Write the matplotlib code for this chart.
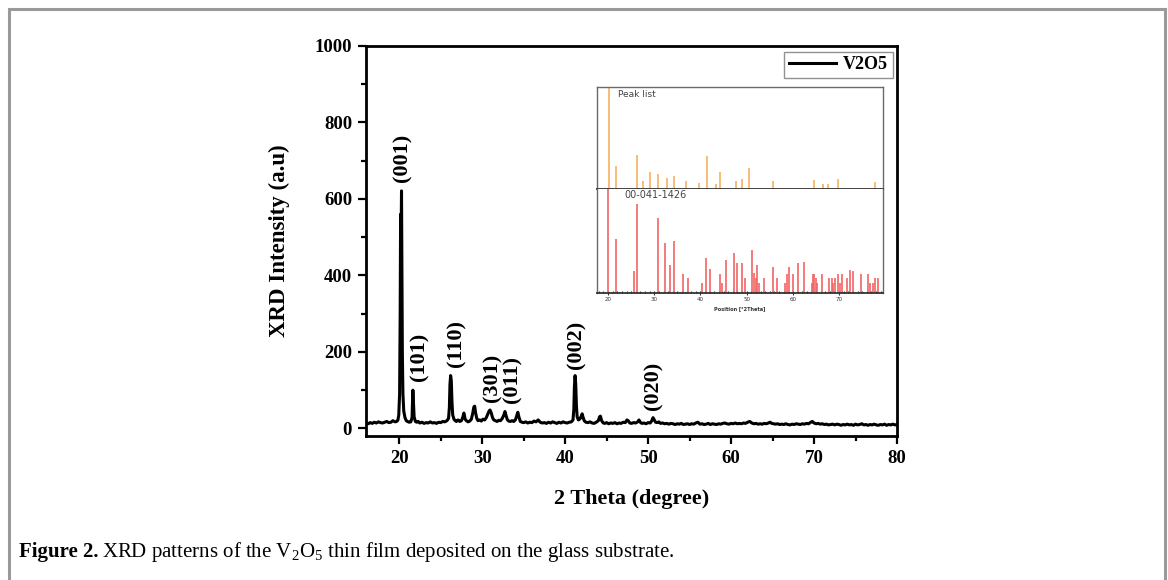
import matplotlib
matplotlib.use("Agg")
import matplotlib.pyplot as plt
from matplotlib.lines import Line2D
from matplotlib.ticker import MultipleLocator

plt.rcParams['font.family'] = ['Liberation Serif', 'DejaVu Serif']
plt.rcParams['mathtext.fontset'] = 'custom'
plt.rcParams['mathtext.rm'] = 'Liberation Serif'

# main XRD pattern
two_theta = [16.0, 16.25, 16.5, 16.75, 17.0, 17.25, 17.5, 17.75, 18.0, 18.25, 18.5, 18.75, 19.0, 19.25, 19.5, 19.7, 19.85,
             19.95, 20.05, 20.12, 20.17, 20.22, 20.28, 20.33, 20.38, 20.45, 20.55, 20.7, 20.85, 21.0, 21.2, 21.4,
             21.55, 21.65, 21.72, 21.8, 21.95, 22.1, 22.3, 22.5, 22.75, 23.0, 23.25, 23.5, 23.75, 24.0, 24.25, 24.5,
             24.75, 25.0, 25.25, 25.5, 25.75, 25.95,
             26.05, 26.12, 26.2, 26.28, 26.36, 26.45, 26.6, 26.75, 26.9, 27.1, 27.3, 27.5, 27.65, 27.8, 27.95, 28.1,
             28.3, 28.5, 28.7, 28.85, 29.0, 29.1, 29.2, 29.35, 29.5, 29.7, 29.9, 30.1, 30.3, 30.5, 30.7, 30.85, 30.95,
             31.1, 31.25, 31.4, 31.6, 31.8, 32.0, 32.2, 32.4, 32.6, 32.75, 32.9, 33.05, 33.2, 33.4, 33.6, 33.8, 34.0,
             34.15, 34.3, 34.45, 34.6, 34.8, 35.0, 35.25, 35.5, 35.75, 36.0, 36.25, 36.5, 36.75, 37.0, 37.25, 37.5,
             37.75, 38.0, 38.25, 38.5, 38.75, 39.0, 39.25, 39.5, 39.75, 40.0, 40.25, 40.5, 40.75, 40.95,
             41.05, 41.12, 41.2, 41.28, 41.36, 41.45, 41.6, 41.8, 41.95, 42.05, 42.15, 42.3, 42.5, 42.75, 43.0, 43.25,
             43.5, 43.75, 44.0, 44.15, 44.25, 44.4, 44.6, 44.8, 45.0, 45.25, 45.5, 45.75, 46.0, 46.25, 46.5, 46.75,
             47.0, 47.25, 47.45, 47.6, 47.8, 48.0, 48.25, 48.5, 48.75, 48.9, 49.05, 49.25, 49.5, 49.75, 50.0, 50.25,
             50.45, 50.6, 50.75, 50.9, 51.1, 51.3, 51.5, 51.75, 52.0, 52.25, 52.5, 52.75, 53.0, 53.25, 53.5, 53.75,
             54.0, 54.25, 54.5, 54.75, 55.0, 55.25, 55.5, 55.75, 56.0, 56.25, 56.5, 56.75, 57.0, 57.25, 57.5, 57.75,
             58.0, 58.25, 58.5, 58.75, 59.0, 59.25, 59.5, 59.75, 60.0, 60.25, 60.5, 60.75, 61.0, 61.25, 61.5, 61.75,
             62.0, 62.25, 62.5, 62.75, 63.0, 63.25, 63.5, 63.75, 64.0, 64.25, 64.5, 64.7, 64.9, 65.1, 65.35, 65.6,
             65.85, 66.1, 66.35, 66.6, 66.85, 67.1, 67.35, 67.6, 67.85, 68.1, 68.35, 68.6, 68.85, 69.1, 69.35, 69.6,
             69.8, 70.0, 70.25, 70.5, 70.75, 71.0, 71.25, 71.5, 71.75, 72.0, 72.25, 72.5, 72.75, 73.0, 73.25, 73.5,
             73.75, 74.0, 74.25, 74.5, 74.75, 75.0, 75.25, 75.5, 75.75, 76.0, 76.25, 76.5, 76.75, 77.0, 77.25, 77.5,
             77.75, 78.0, 78.25, 78.5, 78.75, 79.0, 79.25, 79.5, 79.75, 80.0]
intensity = [14, 12, 15, 13, 16, 14, 17, 15, 14, 16, 18, 15, 16, 20, 17, 18, 22,
             35, 90, 300, 560, 470, 621, 410, 200, 90, 45, 28, 20, 18, 16, 17,
             28, 100, 70, 30, 18, 16, 18, 14, 16, 13, 15, 14, 17, 14, 15, 13,
             16, 15, 18, 17, 20, 26,
             55, 115, 138, 125, 70, 35, 24, 20, 18, 22, 18, 20, 28, 40, 24, 20,
             17, 19, 24, 38, 56, 58, 42, 26, 20, 22, 19, 24, 22, 28, 38, 46, 48,
             40, 28, 22, 20, 18, 21, 20, 25, 34, 44, 32, 22, 19, 18, 20, 18, 22,
             32, 42, 28, 18, 16, 15, 17, 14, 16, 15, 19, 17, 22, 16, 14, 15,
             13, 16, 14, 17, 15, 13, 16, 14, 17, 15, 14, 16, 17, 22,
             50, 110, 138, 115, 60, 30, 22, 25, 32, 38, 30, 20, 16, 15, 17, 14,
             13, 16, 20, 30, 32, 20, 14, 13, 15, 12, 14, 13, 15, 12, 14, 13,
             16, 15, 22, 20, 14, 13, 15, 14, 17, 22, 16, 13, 14, 12, 15, 14,
             20, 28, 22, 16, 15, 17, 13, 14, 12, 13, 11, 13, 12, 10, 12, 11,
             13, 10, 11, 12, 10, 12, 11, 14, 16, 11, 12, 10, 11, 13, 10, 12,
             11, 10, 12, 11, 13, 14, 12, 11, 13, 12, 14, 12, 13, 12, 14, 13,
             16, 18, 14, 12, 13, 11, 12, 11, 13, 12, 14, 16, 13, 12, 11, 12,
             10, 11, 10, 12, 10, 9, 11, 10, 12, 11, 10, 12, 11, 13, 12, 16,
             18, 14, 12, 13, 11, 12, 10, 11, 9, 10, 11, 9, 11, 10, 8, 10,
             9, 11, 9, 10, 8, 11, 9, 10, 12, 9, 10, 8, 10, 9, 11, 9,
             8, 10, 9, 11, 8, 10, 9, 11, 9, 10]

# plane labels (text, x, bottom of text)
hkl_labels = ['(001)', '(101)', '(110)', '(301)', '(011)', '(002)', '(020)']
hkl_x = [20.4, 22.4, 26.9, 31.2, 33.7, 41.4, 50.7]
hkl_y = [645, 125, 160, 68, 66, 155, 48]

# inset: peak list (orange) and reference card 00-041-1426 (red)
peak_pos = [20.2, 21.7, 26.2, 27.6, 29.1, 30.9, 32.7, 34.3, 36.9, 39.7, 41.3, 43.3, 44.2, 47.7, 49.05,
            50.6, 55.8, 64.6, 66.5, 67.7, 69.7, 77.8]
peak_rel = [100, 23, 33, 7.5, 17, 15, 11, 13, 8, 6, 32, 5, 17, 8, 10, 21, 8, 8.5, 5, 5, 10, 6.5]
ref_pos = [20.05, 21.65, 25.5, 26.2, 30.9, 32.4, 33.3, 34.3, 36.15, 37.4, 40.3, 41.2, 42.1, 44.2, 44.6,
           45.5, 47.3, 48.0, 48.9, 49.6, 51.2, 51.6, 51.95, 52.2, 52.6, 53.8, 55.8, 56.5, 58.3, 58.7, 59.1,
           60.1, 61.2, 62.3, 64.1, 64.4, 64.6, 64.9, 65.2, 66.2, 67.9, 68.4, 68.7, 69.1, 69.8, 70.2, 70.6,
           71.8, 72.4, 72.9, 74.7, 76.2, 76.7, 77.4, 77.8, 78.4]
ref_rel = [100, 52, 21, 86, 72, 48, 27, 50, 18, 14, 10, 34, 23, 18, 10,
           32, 38, 29, 29, 14, 41, 19, 14, 27, 10, 14, 25, 14, 10, 18, 25,
           18, 29, 30, 10, 18, 18, 14, 10, 18, 14, 14, 10, 14, 18, 10, 18,
           14, 22, 21, 18, 18, 10, 10, 14, 14]

W, H = 1168, 580
fig = plt.figure(figsize=(W / 100, H / 100), dpi=100)

def fx(px):
    return px / W

def fy(py):
    return 1 - py / H

# outer gray frame
for xs, ys in [([9, 9], [H + 5, 9]), ([9, 1165], [9, 9]), ([1165, 1165], [9, H + 5])]:
    fig.add_artist(Line2D([fx(v) for v in xs], [fy(v) for v in ys], color='#9a9a9a', lw=2.2,
                          transform=fig.transFigure))

ax = fig.add_axes([fx(366), fy(436), fx(897) - fx(366), fy(46) - fy(436)])
ax.plot(two_theta, intensity, color='black', lw=2.2, label='V2O5')
ax.set_xlim(16, 80)
ax.set_ylim(-20, 1000)
ax.xaxis.set_major_locator(MultipleLocator(10))
ax.xaxis.set_minor_locator(MultipleLocator(5))
ax.yaxis.set_major_locator(MultipleLocator(200))
ax.yaxis.set_minor_locator(MultipleLocator(100))
ax.tick_params(which='both', direction='out', top=False, right=False, width=1.6)
ax.tick_params(which='major', length=6, labelsize=13.5, pad=4)
ax.tick_params(which='minor', length=3.5)
for lab in ax.get_xticklabels() + ax.get_yticklabels():
    lab.set_fontweight('bold')
for sp in ax.spines.values():
    sp.set_linewidth(2.0)
ax.set_xlabel('2 Theta (degree)', fontsize=16, fontweight='bold', labelpad=16)
ax.set_ylabel('XRD Intensity (a.u)', fontsize=16.5, fontweight='bold', labelpad=18)

for t, x, y in zip(hkl_labels, hkl_x, hkl_y):
    ax.text(x, y, t, rotation=90, ha='center', va='bottom', fontsize=16, fontweight='bold')

leg = ax.legend(loc='upper right', bbox_to_anchor=(0.9985, 0.995), prop={'size': 13, 'weight': 'bold'},
                frameon=True, fancybox=False, edgecolor='#777777', handlelength=2.6, handletextpad=0.4,
                borderpad=0.25, borderaxespad=0.2)
leg.get_frame().set_linewidth(1.0)

# inset
ix0, ix1 = fx(597), fx(883)
ax_top = fig.add_axes([ix0, fy(189), ix1 - ix0, fy(87) - fy(189)])
ax_bot = fig.add_axes([ix0, fy(293), ix1 - ix0, fy(189) - fy(293)], sharex=ax_top)
ax_top.vlines(peak_pos, 0, peak_rel, color='#f8b66a', lw=1.3)
ax_bot.vlines(ref_pos, 0, ref_rel, color='#f26464', lw=1.2)
for a in (ax_top, ax_bot):
    a.set_ylim(0, 100)
    a.set_yticks([])
    for sp in a.spines.values():
        sp.set_color('#6a6a6a')
        sp.set_linewidth(1.0)
ax_top.spines['bottom'].set_color('#333333')
ax_top.spines['bottom'].set_linewidth(1.3)
ax_bot.spines['top'].set_visible(False)
ax_bot.spines['bottom'].set_color('#333333')
ax_bot.spines['bottom'].set_linewidth(1.3)
ax_top.set_xlim(17.6, 79.5)
ax_top.tick_params(axis='x', which='both', bottom=False, labelbottom=False)
ax_bot.xaxis.set_major_locator(MultipleLocator(10))
ax_bot.xaxis.set_minor_locator(MultipleLocator(1))
ax_bot.tick_params(axis='x', which='major', direction='inout', length=3, width=0.8, labelsize=4, pad=1.5,
                   colors='#333333')
ax_bot.tick_params(axis='x', which='minor', direction='in', length=1.5, width=0.8, colors='#333333')
ax_bot.set_xlabel('Position [°2Theta]', fontsize=3.6, family='DejaVu Sans', fontweight='bold', labelpad=3,
                  color='#333333')
for lab in ax_bot.get_xticklabels():
    lab.set_family('DejaVu Sans')
ax_top.text(0.075, 0.97, 'Peak list', transform=ax_top.transAxes, fontsize=6.5, family='DejaVu Sans',
            color='#444444', va='top', ha='left')
ax_bot.text(0.095, 0.99, '00-041-1426', transform=ax_bot.transAxes, fontsize=7, family='DejaVu Sans',
            color='#444444', va='top', ha='left')

# caption
cap_y = fy(552)
t1 = fig.text(fx(19), cap_y, 'Figure 2.', fontsize=15, fontweight='bold', va='center', ha='left')
fig.canvas.draw()
bb = t1.get_window_extent(fig.canvas.get_renderer())
fig.text(bb.x1 / W + fx(4), cap_y, 'XRD patterns of the V$_2$O$_5$ thin film deposited on the glass substrate.',
         fontsize=15, va='center', ha='left')

fig.savefig('out.png', dpi=100)
